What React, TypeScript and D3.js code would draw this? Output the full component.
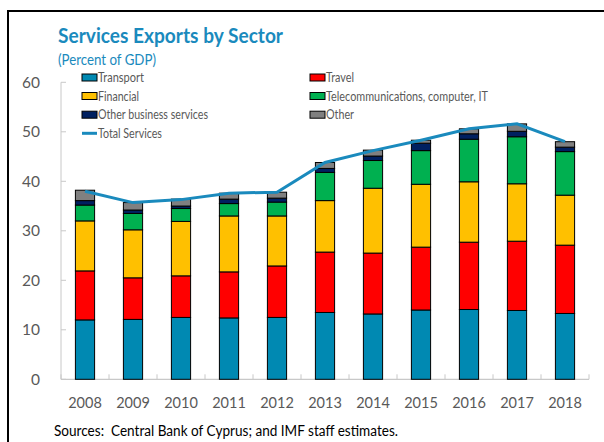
import React from "react";
import * as d3 from "d3";

const years = ["2008","2009","2010","2011","2012","2013","2014","2015","2016","2017","2018"];
const seriesNames = ["Transport","Travel","Financial","Telecommunications, computer, IT","Other business services","Other"];
const seriesColors = ["#0089B2","#FF0000","#FFC000","#00B050","#002060","#808080"];
const transport = [12.0,12.1,12.5,12.4,12.5,13.5,13.2,14.0,14.1,13.9,13.3];
const travel = [9.9,8.4,8.4,9.3,10.4,12.2,12.3,12.7,13.6,14.0,13.8];
const financial = [10.1,9.7,11.0,11.3,10.1,10.4,13.1,12.7,12.2,11.6,10.1];
const telecom = [3.2,3.3,2.6,2.5,2.8,5.7,5.6,6.8,8.6,9.5,8.8];
const otherBusiness = [0.9,0.7,0.5,0.9,0.8,0.8,0.9,1.5,1.1,1.1,0.9];
const other = [2.1,1.5,1.4,1.2,1.2,1.2,1.2,0.6,1.0,1.5,1.1];
const totalServices = [38.0,35.7,36.3,37.6,37.8,43.8,46.2,48.3,50.6,51.6,48.0];
const yTicks = [0,10,20,30,40,50,60];
const legendWidths = [46, 28, 41, 162, 110, 28];

const seriesData = [transport, travel, financial, telecom, otherBusiness, other];

export default function App() {
  const left = 61, right = 589, top = 82.3, bottom = 379.3;
  const x = d3.scaleBand<string>().domain(years).range([left, right]).paddingInner(0.6).paddingOuter(0.3);
  const y = d3.scaleLinear().domain([0, 60]).range([bottom, top]);

  const table = years.map((yr, i) => {
    const row: any = { year: yr };
    seriesNames.forEach((s, k) => (row[s] = seriesData[k][i]));
    return row;
  });
  const stacked = d3.stack<any>().keys(seriesNames)(table);

  const line = d3.line<number>()
    .x((_, i) => (x(years[i]) as number) + x.bandwidth() / 2)
    .y((v) => y(v));

  const step = x.step();
  const xTickPos = d3.range(years.length + 1).map((i) => left + i * step);

  const font = "Lato, 'Open Sans', sans-serif";
  const axisGray = "#C8C8C8";
  const textGray = "#595959";

  const legendRows = [77.5, 96, 114.7];
  const legendCols = [82, 310];

  return (
    <svg width={604} height={442} style={{ position: "fixed", left: 0, top: 0, background: "#fff" }} fontFamily={font}>
      <rect x={0} y={0} width={604} height={442} fill="#fff" />
      {/* frame */}
      <line x1={8} y1={11} x2={604} y2={11} stroke="#000" strokeWidth={2} />
      <line x1={8} y1={10} x2={8} y2={442} stroke="#000" strokeWidth={2} />

      <text x={58} y={43} fontSize={21} fontWeight={700} fill="#1A8ABD" textLength={225} lengthAdjust="spacingAndGlyphs">Services Exports by Sector</text>
      <text x={58} y={65} fontSize={15.5} fill="#1A8ABD" textLength={98} lengthAdjust="spacingAndGlyphs">(Percent of GDP)</text>

      {/* y axis */}
      <line x1={left} y1={y(0)} x2={left} y2={y(60)} stroke={axisGray} strokeWidth={1} />
      {yTicks.map((t) => (
        <g key={t}>
          <line x1={left} x2={left + 5} y1={y(t)} y2={y(t)} stroke={axisGray} />
          <text x={40} y={y(t) + 5.5} textAnchor="end" fontSize={15.5} fill={textGray}>{t}</text>
        </g>
      ))}

      {/* x axis */}
      <line x1={left} y1={bottom} x2={right} y2={bottom} stroke={axisGray} strokeWidth={1.2} />
      {xTickPos.map((p, i) => (
        <line key={i} x1={p} x2={p} y1={bottom} y2={bottom - 5} stroke={axisGray} />
      ))}
      {years.map((yr) => (
        <text key={yr} x={(x(yr) as number) + x.bandwidth() / 2} y={408} textAnchor="middle" fontSize={14.5} fill={textGray}>{yr}</text>
      ))}

      {/* bars */}
      {stacked.map((s, k) => (
        <g key={s.key}>
          {s.map((d, i) => (
            <rect key={i} x={x(years[i])} y={y(d[1])} width={x.bandwidth()} height={y(d[0]) - y(d[1])}
              fill={seriesColors[k]} stroke="#000" strokeWidth={1} />
          ))}
        </g>
      ))}

      {/* total line */}
      <path d={line(totalServices) || ""} fill="none" stroke="#1A8ABD" strokeWidth={3} />

      {/* legend */}
      {seriesNames.map((s, k) => {
        const col = k % 2, row = Math.floor(k / 2);
        const lx = legendCols[col], ly = legendRows[row];
        return (
          <g key={s}>
            <rect x={lx} y={ly - 3.5} width={15} height={7} fill={seriesColors[k]} stroke="#000" strokeWidth={1} />
            <text x={lx + 16} y={ly + 4.5} fontSize={13.5} fill={textGray} textLength={legendWidths[k]} lengthAdjust="spacingAndGlyphs">{s}</text>
          </g>
        );
      })}
      <line x1={82} x2={97} y1={133.3} y2={133.3} stroke="#1A8ABD" strokeWidth={3} />
      <text x={98} y={137.8} fontSize={13.5} fill={textGray} textLength={64} lengthAdjust="spacingAndGlyphs">Total Services</text>

      <text x={54} y={436} fontSize={14.5} fill="#000" style={{ whiteSpace: "pre" }} textLength={344} lengthAdjust="spacingAndGlyphs">Sources:  Central Bank of Cyprus; and IMF staff estimates.</text>
    </svg>
  );
}
